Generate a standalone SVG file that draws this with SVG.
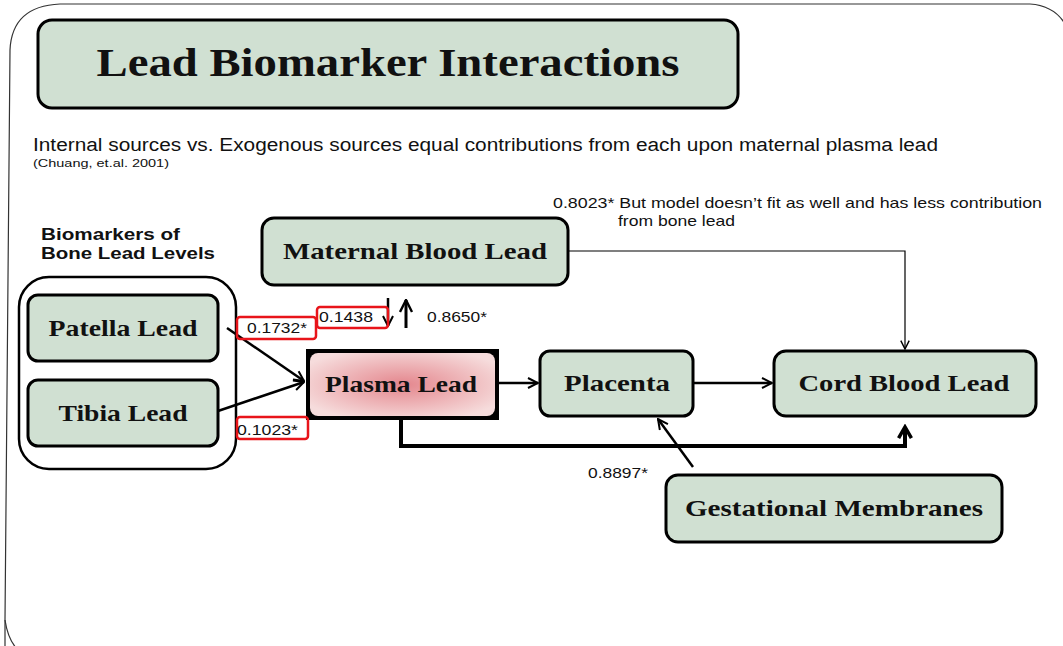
<svg xmlns="http://www.w3.org/2000/svg" width="1063" height="646" viewBox="0 0 1063 646">
<style>
.frame{fill:none;stroke:#333;stroke-width:1.2}
.node{fill:#d0e0d2;stroke:#000;stroke-width:3}
.nt{font-family:"Liberation Serif","Times New Roman",serif;font-weight:bold;font-size:23px;text-anchor:middle;fill:#111}
.sans{font-family:"Liberation Sans",Arial,sans-serif;fill:#111}
.red{fill:none;stroke:#e8141a;stroke-width:2.5}
.c{fill:none;stroke:#000;stroke-width:2.5}
.thin{fill:none;stroke:#000;stroke-width:1.2}
</style>
<defs>
<radialGradient id="pg" cx="0.5" cy="0.5" r="0.6">
<stop offset="0" stop-color="#e4868d"/>
<stop offset="1" stop-color="#f6dcdc"/>
</radialGradient>
<marker id="ah" viewBox="0 0 10 10" refX="9" refY="5" markerWidth="5" markerHeight="5" orient="auto" markerUnits="strokeWidth">
<path d="M1,1 L9,5 L1,9" fill="none" stroke="#000" stroke-width="1.6"/>
</marker>
<marker id="ahT" viewBox="0 0 10 10" refX="9" refY="5" markerWidth="10" markerHeight="10" orient="auto" markerUnits="strokeWidth">
<path d="M2,1.5 L9,5 L2,8.5" fill="none" stroke="#000" stroke-width="1.2"/>
</marker>
<marker id="ahB" viewBox="0 0 10 10" refX="8" refY="5" markerWidth="4" markerHeight="4.5" orient="auto" markerUnits="strokeWidth">
<path d="M1,1 L8,5 L1,9" fill="none" stroke="#000" stroke-width="2.2"/>
</marker>
</defs>
<rect width="1063" height="646" fill="#fff"/>
<path class="frame" d="M5,660 L5,620 L10,50 Q12,6 60,4 L1030,4 Q1058,6 1068,30"/>
<path class="frame" d="M5,620 Q8,640 18,650"/>

<g id="title">
<rect x="38" y="20" width="700" height="88" rx="14" class="node"/>
<text x="388" y="76" class="nt" style="font-size:40px" textLength="583" lengthAdjust="spacingAndGlyphs">Lead Biomarker Interactions</text>
</g>

<text class="sans" x="33" y="151" font-size="18" textLength="905" lengthAdjust="spacingAndGlyphs">Internal sources vs. Exogenous sources equal contributions from each upon maternal plasma lead</text>
<text class="sans" x="33" y="167" font-size="11.5" textLength="136" lengthAdjust="spacingAndGlyphs">(Chuang, et.al. 2001)</text>
<text class="sans" x="553" y="208" font-size="15" textLength="489" lengthAdjust="spacingAndGlyphs">0.8023* But model doesn’t fit as well and has less contribution</text>
<text class="sans" x="618" y="226" font-size="15" textLength="117" lengthAdjust="spacingAndGlyphs">from bone lead</text>
<text class="sans" x="41" y="240" font-size="17" font-weight="bold" textLength="139" lengthAdjust="spacingAndGlyphs">Biomarkers of</text>
<text class="sans" x="41" y="259" font-size="17" font-weight="bold" textLength="174" lengthAdjust="spacingAndGlyphs">Bone Lead Levels</text>

<g id="bone-group">
<rect x="19" y="277" width="217" height="192" rx="30" fill="#fff" stroke="#000" stroke-width="2.5"/>
</g>

<g id="patella">
<rect x="28" y="295" width="190" height="66" rx="10" class="node"/>
<text x="123" y="336" class="nt" textLength="149" lengthAdjust="spacingAndGlyphs">Patella Lead</text>
</g>
<g id="tibia">
<rect x="28" y="380" width="190" height="66" rx="10" class="node"/>
<text x="123" y="421" class="nt" textLength="129" lengthAdjust="spacingAndGlyphs">Tibia Lead</text>
</g>
<g id="maternal">
<rect x="262" y="218" width="306" height="67" rx="12" class="node"/>
<text x="415" y="259" class="nt" textLength="264" lengthAdjust="spacingAndGlyphs">Maternal Blood Lead</text>
</g>
<g id="plasma">
<rect x="306" y="349" width="193" height="71" fill="#000"/>
<rect x="310" y="353" width="185" height="63" rx="8" fill="url(#pg)"/>
<text x="401" y="392" class="nt" textLength="152" lengthAdjust="spacingAndGlyphs">Plasma Lead</text>
</g>
<g id="placenta">
<rect x="540" y="351" width="153" height="65" rx="10" class="node"/>
<text x="617" y="391" class="nt" textLength="106" lengthAdjust="spacingAndGlyphs">Placenta</text>
</g>
<g id="cord">
<rect x="774" y="351" width="262" height="65" rx="12" class="node"/>
<text x="904" y="391" class="nt" textLength="211" lengthAdjust="spacingAndGlyphs">Cord Blood Lead</text>
</g>
<g id="gestational">
<rect x="666" y="475" width="336" height="67" rx="12" class="node"/>
<text x="834" y="516" class="nt" textLength="298" lengthAdjust="spacingAndGlyphs">Gestational Membranes</text>
</g>

<g id="connectors">
<line x1="227" y1="328" x2="304" y2="381" class="c" marker-end="url(#ah)"/>
<line x1="218" y1="411" x2="304" y2="382" class="c" marker-end="url(#ah)"/>
<line x1="499" y1="383" x2="538" y2="383" class="c" marker-end="url(#ah)"/>
<line x1="693" y1="383" x2="772" y2="383" class="c" marker-end="url(#ah)"/>
<path d="M568,251 L905,251 L905,349" class="thin" marker-end="url(#ahT)"/>
<path d="M401,420 L401,446 L905,446 L905,427" fill="none" stroke="#000" stroke-width="4" marker-end="url(#ahB)"/>
<line x1="693" y1="467" x2="658" y2="419" class="c" marker-end="url(#ah)"/>
<line x1="388" y1="298" x2="388" y2="326" class="c" marker-end="url(#ah)"/>
<line x1="406" y1="328" x2="406" y2="300" stroke="#000" stroke-width="3" marker-end="url(#ah)"/>
</g>

<g id="labels">
<rect x="237" y="317" width="79" height="22" rx="3" class="red"/>
<text class="sans" x="247" y="333" font-size="15" textLength="60" lengthAdjust="spacingAndGlyphs">0.1732*</text>
<rect x="317" y="307" width="71" height="21" rx="3" class="red"/>
<text class="sans" x="319" y="322" font-size="15" textLength="54" lengthAdjust="spacingAndGlyphs">0.1438</text>
<rect x="237" y="417" width="71" height="22" rx="3" class="red"/>
<text class="sans" x="237" y="435" font-size="15" textLength="61" lengthAdjust="spacingAndGlyphs">0.1023*</text>
<text class="sans" x="427" y="322" font-size="15" textLength="60" lengthAdjust="spacingAndGlyphs">0.8650*</text>
<text class="sans" x="588" y="478" font-size="14" textLength="60" lengthAdjust="spacingAndGlyphs">0.8897*</text>
</g>
</svg>
